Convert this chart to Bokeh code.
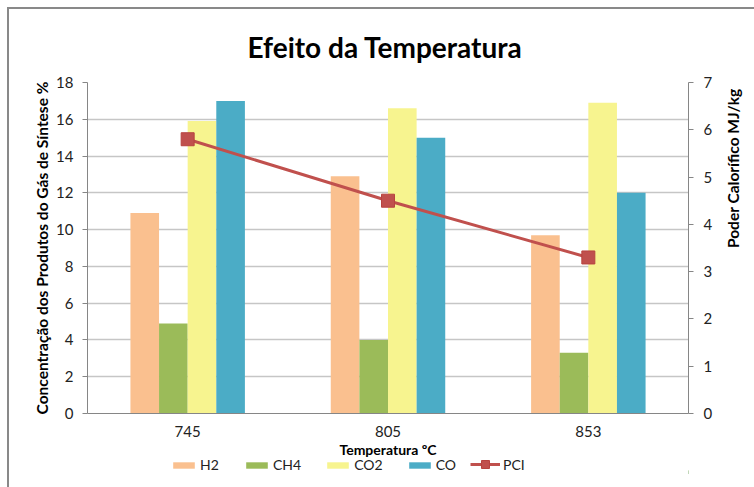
import math
from bokeh.plotting import figure
from bokeh.layouts import column
from bokeh.models import (FactorRange, Range1d, LinearAxis, Legend, LegendItem,
                          ColumnDataSource, FixedTicker)
from bokeh.transform import dodge
from bokeh.embed import file_html
from bokeh.resources import INLINE

temps = ["745", "805", "853"]
h2 = [10.9, 12.9, 9.7]
ch4 = [4.9, 4.0, 3.3]
co2 = [15.9, 16.6, 16.9]
co = [17.0, 15.0, 12.0]
pci = [5.8, 4.5, 3.3]

series = [("H2", h2, "#fac08f"), ("CH4", ch4, "#9bbb59"),
          ("CO2", co2, "#f7f48f"), ("CO", co, "#4bacc6")]
PCI_COL = "#c0504d"

src = ColumnDataSource(dict(t=temps, H2=h2, CH4=ch4, CO2=co2, CO=co, PCI=pci))

FONT = "Lato"
W = 745

p = figure(x_range=FactorRange(*temps, range_padding=0), y_range=Range1d(0, 18),
           width=W, height=454, output_backend="svg", toolbar_location=None,
           min_border_left=78, min_border_right=58, min_border_top=69,
           min_border_bottom=50)
p.extra_y_ranges = {"pci": Range1d(0, 7)}

bw = 1 / 7
for i, (name, vals, col) in enumerate(series):
    p.vbar(x=dodge("t", (i - 1.5) * bw, range=p.x_range), top=name, width=bw,
           source=src, fill_color=col, line_color=None)

p.line(x="t", y="PCI", source=src, y_range_name="pci", line_color=PCI_COL,
       line_width=3)
p.scatter(x="t", y="PCI", source=src, y_range_name="pci", marker="square",
          size=13, fill_color=PCI_COL, line_color="#b8433f")

# Title
p.title.text = "Efeito da Temperatura"
p.title.align = "left"
p.title.offset = 160
p.title.text_font = FONT
p.title.text_font_size = "28px"
p.title.text_font_style = "bold"
p.title.text_color = "#000000"
p.title.standoff = 37

# Axes
ax_col = "#868686"
yl = p.yaxis[0]
yl.ticker = FixedTicker(ticks=list(range(0, 19, 2)))
yl.axis_label = "Concentração dos Produtos do Gás de Síntese %"
yr = LinearAxis(y_range_name="pci", ticker=FixedTicker(ticks=list(range(0, 8))),
                axis_label="Poder Calorífico MJ/kg")
p.add_layout(yr, "right")
xa = p.xaxis[0]
xa.axis_label = "Temperatura ºC"

for a in (yl, yr, xa):
    a.axis_line_color = ax_col
    a.major_tick_line_color = ax_col
    a.minor_tick_line_color = None
    a.major_tick_out = 5
    a.major_tick_in = 0
    a.major_label_text_font = FONT
    a.major_label_text_font_size = "15px"
    a.major_label_text_color = "#222222"
    a.axis_label_text_font = FONT
    a.axis_label_text_font_size = "15.5px"
    a.axis_label_text_font_style = "bold"
    a.axis_label_text_color = "#000000"
xa.axis_label_text_font_size = "14px"
xa.major_tick_line_color = None
xa.major_tick_out = 0
xa.major_label_standoff = 12
xa.axis_label_standoff = 1
yl.major_label_standoff = 9
yr.major_label_standoff = 10
yl.axis_label_standoff = 2
yr.axis_label_standoff = 18
yr.axis_label_orientation = math.pi / 2

p.xgrid.grid_line_color = None
p.ygrid.grid_line_color = "#c6c6c6"
p.ygrid.grid_line_width = 1.5
p.outline_line_color = None

# Legend strip (separate figure; swatch renderers sit outside its visible range)
LH = 34
lf = figure(width=W, height=LH, x_range=(0, 1), y_range=(0, 1),
            output_backend="svg", toolbar_location=None,
            x_axis_type=None, y_axis_type=None,
            min_border=0, min_border_left=0, min_border_right=0,
            min_border_top=0, min_border_bottom=0)
lf.outline_line_color = None
lf.outline_line_alpha = 0
for g in lf.grid:
    g.visible = False
lf.background_fill_alpha = 0
lf.border_fill_alpha = 0
lf.styles = {"margin-top": "-10px"}

bar_items = []
for name, vals, col in series:
    r = lf.vbar(x=[10], top=[0.5], bottom=[0.4], width=0.1, fill_color=col,
                line_color=None)
    bar_items.append(LegendItem(label=name, renderers=[r]))
rl = lf.line(x=[10, 11], y=[10, 11], line_color=PCI_COL, line_width=3)
rs = lf.scatter(x=[10], y=[10], marker="square", size=9, fill_color=PCI_COL,
                line_color="#b8433f")

common = dict(orientation="horizontal", label_text_font=FONT,
              label_text_font_size="14px", label_text_color="#222222",
              padding=0, margin=0, border_line_color=None,
              background_fill_alpha=0, label_standoff=3)
leg1 = Legend(items=bar_items, location=(83, 14), glyph_width=27, glyph_height=8,
              spacing=23, **common)
leg2 = Legend(items=[LegendItem(label="PCI", renderers=[rl, rs])],
              location=(383, 13), glyph_width=30, glyph_height=20, **common)
lf.add_layout(leg1)
lf.add_layout(leg2)

lay = column(p, lf, spacing=0)
lay.styles = {"border-left": "2px solid #898989", "border-top": "2px solid #898989",
              "margin-left": "7px", "margin-top": "7px"}

open("out.html", "w").write(file_html(lay, INLINE))
